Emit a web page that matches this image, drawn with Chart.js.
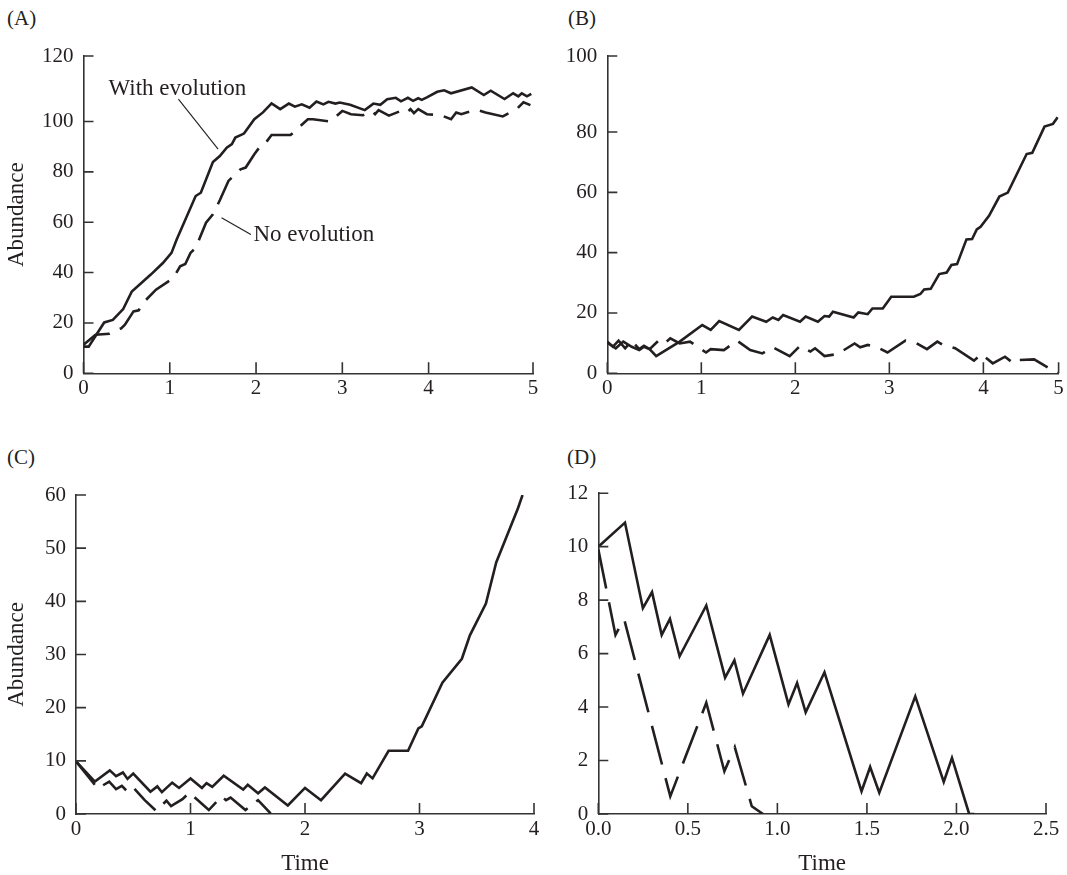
<!DOCTYPE html>
<html>
<head>
<meta charset="utf-8">
<title>Abundance with and without evolution</title>
<script src="https://cdn.jsdelivr.net/npm/chart.js@4.4.0/dist/chart.umd.min.js"></script>
<style>
  html, body { margin: 0; padding: 0; background: #fff; }
  body { width: 1067px; height: 875px; position: relative; overflow: hidden;
         font-family: "Liberation Serif", "Times New Roman", serif; color: #231f20; }
  canvas { position: absolute; }
  .tag { position: absolute; font-size: 21px; line-height: 21px; }
</style>
</head>
<body>
<div class="tag" style="left:7px;top:8px">(A)</div>
<div class="tag" style="left:568px;top:8px">(B)</div>
<div class="tag" style="left:7px;top:447px">(C)</div>
<div class="tag" style="left:567px;top:447px">(D)</div>

<canvas id="chartA" width="560" height="420" style="left:0;top:0"></canvas>
<canvas id="chartB" width="507" height="420" style="left:560px;top:0"></canvas>
<canvas id="chartC" width="560" height="455" style="left:0;top:420px"></canvas>
<canvas id="chartD" width="507" height="455" style="left:560px;top:420px"></canvas>

<script>
// ---- data: [time, abundance] ----

// (A)
const aWithEvolution = [
  [0,10.6],[0.06,10.6],[0.24,20.2],[0.34,21.2],[0.46,25.5],[0.56,32.5],[0.78,39.2],
  [0.92,43.8],[1.02,47.8],[1.08,53.1],[1.30,70.4],[1.36,71.7],[1.50,83.9],[1.58,86.3],
  [1.66,89.6],[1.72,91.0],[1.76,93.6],[1.86,95.2],[1.98,100.9],[2.08,103.6],[2.18,107.2],
  [2.28,104.9],[2.38,107.1],[2.45,105.9],[2.53,106.8],[2.62,105.5],[2.70,107.9],[2.78,106.8],
  [2.84,107.8],[2.92,107.1],[2.97,107.5],[3.09,106.6],[3.26,104.5],[3.36,107.1],[3.44,106.6],
  [3.52,108.8],[3.62,109.4],[3.68,108.0],[3.76,109.4],[3.82,108.2],[3.88,109.2],[3.92,108.6],
  [3.98,109.6],[4.10,111.8],[4.18,112.4],[4.26,111.2],[4.50,113.5],[4.64,110.5],[4.72,112.2],
  [4.88,108.9],[4.98,111.2],[5.04,110.0],[5.08,111.2],[5.14,110.0],[5.19,111.0]
];
const aNoEvolution = [
  [0,11.3],[0.14,15.3],[0.30,15.7],[0.44,17.9],[0.48,19.3],[0.58,24.6],[0.64,25.0],
  [0.68,27.6],[0.84,33.2],[1.04,37.8],[1.12,42.5],[1.18,43.4],[1.24,47.8],[1.30,49.8],
  [1.42,59.8],[1.50,63.1],[1.58,68.7],[1.68,76.4],[1.76,79.0],[1.82,81.0],[1.88,81.7],
  [1.98,87.0],[2.08,91.6],[2.12,91.9],[2.18,94.6],[2.40,94.6],[2.60,100.9],[2.66,100.9],
  [2.86,100.0],[3.00,104.2],[3.10,102.9],[3.24,102.5],[3.34,104.2],[3.38,102.9],[3.42,104.5],
  [3.54,102.3],[3.68,104.2],[3.74,103.3],[3.79,104.9],[3.83,103.3],[3.88,104.9],[3.98,102.9],
  [4.14,102.5],[4.26,100.9],[4.32,103.6],[4.38,102.9],[4.44,103.6],[4.56,104.6],[4.66,103.6],
  [4.86,102.0],[5.02,104.9],[5.10,107.6],[5.18,106.5]
];
// the printed axes in (A) and (B) run a little past the last regular step
const aTimeTicks = [0, 1, 2, 3, 4, 5.21];
const aTimeLabels = ['0', '1', '2', '3', '4', '5'];
const aAbundanceTicks = [0, 20, 40, 60, 80, 100, 126];
const aAbundanceLabels = ['0', '20', '40', '60', '80', '100', '120'];

// (B)
const bWithEvolution = [
  [0,10.2],[0.09,8.3],[0.17,10.5],[0.26,8.8],[0.34,7.7],[0.39,8.8],[0.45,8.0],[0.52,5.7],
  [0.77,10.5],[1.01,16.0],[1.10,14.4],[1.19,17.3],[1.40,14.4],[1.54,18.8],[1.69,17.1],
  [1.76,18.5],[1.82,17.7],[1.87,19.3],[2.05,17.1],[2.11,18.8],[2.24,17.1],[2.31,19.0],
  [2.36,18.8],[2.40,20.4],[2.62,18.5],[2.67,20.2],[2.77,19.6],[2.82,21.5],[2.93,21.5],
  [3.02,25.4],[3.26,25.4],[3.33,26.3],[3.37,27.8],[3.44,28.0],[3.53,32.9],[3.61,33.4],
  [3.66,35.9],[3.72,36.2],[3.82,44.4],[3.88,44.5],[3.93,47.7],[3.97,48.6],[4.06,52.2],
  [4.17,58.6],[4.26,59.9],[4.46,72.7],[4.52,73.1],[4.65,81.8],[4.74,82.7],[4.79,84.9]
];
const bNoEvolution = [
  [0,10.5],[0.06,8.8],[0.12,10.8],[0.19,8.3],[0.26,10.8],[0.34,8.0],[0.39,9.1],[0.45,8.0],
  [0.57,11.6],[0.63,10.5],[0.67,11.6],[0.77,9.9],[0.88,10.5],[1.05,6.9],[1.10,8.0],[1.24,7.7],
  [1.38,10.8],[1.52,7.7],[1.65,6.6],[1.76,8.6],[1.94,5.7],[2.05,9.1],[2.16,7.2],[2.21,8.3],
  [2.31,5.7],[2.45,6.4],[2.63,9.9],[2.69,8.6],[2.77,9.4],[2.86,8.8],[2.98,6.9],[3.17,10.8],
  [3.29,9.9],[3.40,8.0],[3.51,10.5],[3.57,9.4],[3.70,8.3],[3.90,4.2],[3.98,6.4],[4.10,3.3],
  [4.23,5.5],[4.32,3.3],[4.37,4.4],[4.54,4.6],[4.79,0]
];
const bTimeTicks = [0, 1, 2, 3, 4, 4.80];
const bTimeLabels = ['0', '1', '2', '3', '4', '5'];
const bAbundanceTicks = [0, 20, 40, 60, 80, 105.2];
const bAbundanceLabels = ['0', '20', '40', '60', '80', '100'];

// (C)
const cWithEvolution = [
  [0,9.9],[0.165,6.1],[0.295,8.2],[0.35,7.1],[0.41,7.8],[0.45,6.6],[0.50,7.6],[0.65,4.2],
  [0.71,5.2],[0.75,4.1],[0.84,5.9],[0.90,4.9],[1.00,6.7],[1.10,4.9],[1.14,5.8],[1.19,5.1],
  [1.29,7.2],[1.46,4.6],[1.50,5.5],[1.59,3.9],[1.65,5.0],[1.85,1.6],[2.00,4.9],[2.14,2.6],
  [2.35,7.6],[2.49,5.8],[2.54,7.6],[2.59,6.7],[2.73,11.9],[2.90,11.9],[2.99,16.1],[3.02,16.5],
  [3.20,24.7],[3.37,29.2],[3.44,33.6],[3.58,39.6],[3.67,47.3],[3.86,57.5],[3.90,60.0]
];
const cNoEvolution = [
  [0,9.9],[0.19,4.8],[0.29,6.1],[0.35,4.7],[0.40,5.3],[0.45,4.2],[0.50,5.0],[0.60,2.6],
  [0.70,0.6],[0.79,2.5],[0.83,1.5],[0.93,2.8],[0.99,4.0],[1.16,0.75],[1.27,3.3],[1.31,2.6],
  [1.35,3.1],[1.48,0.75],[1.59,2.6],[1.70,0.1]
];
const cTimeTicks = [0, 1, 2, 3, 4];
const cTimeLabels = ['0', '1', '2', '3', '4'];
const cAbundanceTicks = [0, 10, 20, 30, 40, 50, 60];
const cAbundanceLabels = ['0', '10', '20', '30', '40', '50', '60'];

// (D)
const dWithEvolution = [
  [0,10.0],[0.149,10.9],[0.249,7.7],[0.30,8.3],[0.354,6.7],[0.40,7.3],[0.454,5.9],[0.603,7.8],
  [0.708,5.1],[0.76,5.75],[0.808,4.5],[0.957,6.7],[1.062,4.1],[1.11,4.9],[1.158,3.8],
  [1.263,5.3],[1.47,0.85],[1.518,1.76],[1.569,0.8],[1.77,4.4],[1.929,1.2],[1.975,2.1],
  [2.071,0],[2.10,0]
];
const dNoEvolution = [
  [0,9.9],[0.096,6.7],[0.144,7.3],[0.402,0.66],[0.603,4.16],[0.704,1.6],[0.762,2.5],
  [0.857,0.29],[0.92,0]
];
const dTimeTicks = [0, 0.5, 1.0, 1.5, 2.0, 2.5];
const dTimeLabels = ['0.0', '0.5', '1.0', '1.5', '2.0', '2.5'];
const dAbundanceTicks = [0, 2, 4, 6, 8, 10, 12];
const dAbundanceLabels = ['0', '2', '4', '6', '8', '10', '12'];

// ---- drawing ----
const ink = '#231f20';
const axisInk = '#333333';
const serif = '"Liberation Serif", "Times New Roman", serif';

// tick marks point into the plot in the original
const inwardTicks = {
  id: 'inwardTicks',
  afterDatasetsDraw(chart) {
    const {ctx, chartArea, scales: {x, y}} = chart;
    ctx.save();
    ctx.strokeStyle = axisInk;
    ctx.lineWidth = 1.6;
    ctx.beginPath();
    y.ticks.forEach(t => {
      const py = y.getPixelForValue(t.value);
      ctx.moveTo(chartArea.left, py);
      ctx.lineTo(chartArea.left + 10, py);
    });
    x.ticks.forEach(t => {
      const px = x.getPixelForValue(t.value);
      ctx.moveTo(px, chartArea.bottom);
      ctx.lineTo(px, chartArea.bottom - 11);
    });
    ctx.stroke();
    ctx.restore();
  }
};

// "With evolution" / "No evolution" labels with leader lines
const callouts = {
  id: 'callouts',
  afterDatasetsDraw(chart, args, opts) {
    const items = opts.items || [];
    const {ctx, scales: {x, y}} = chart;
    ctx.save();
    items.forEach(it => {
      ctx.strokeStyle = ink;
      ctx.lineWidth = 1.1;
      ctx.beginPath();
      ctx.moveTo(x.getPixelForValue(it.line[0][0]), y.getPixelForValue(it.line[0][1]));
      ctx.lineTo(x.getPixelForValue(it.line[1][0]), y.getPixelForValue(it.line[1][1]));
      ctx.stroke();
      ctx.font = '23px ' + serif;
      ctx.fillStyle = ink;
      ctx.textAlign = 'left';
      ctx.textBaseline = 'middle';
      ctx.fillText(it.text, x.getPixelForValue(it.at[0]), y.getPixelForValue(it.at[1]));
    });
    ctx.restore();
  }
};

function toPoints(rows) {
  return rows.map(r => ({x: r[0], y: r[1]}));
}

function build_panel(id, cfg) {
  const ctx = document.getElementById(id);
  return new Chart(ctx, {
    type: 'line',
    data: {
      datasets: [
        {
          label: 'With evolution',
          data: toPoints(cfg.solid),
          borderColor: ink,
          borderWidth: 2.6,
          pointRadius: 0,
          tension: 0,
          fill: false
        },
        {
          label: 'No evolution',
          data: toPoints(cfg.dashed),
          borderColor: ink,
          borderWidth: 2.6,
          borderDash: cfg.dash,
          pointRadius: 0,
          tension: 0,
          fill: false
        }
      ]
    },
    options: {
      responsive: false,
      animation: false,
      events: [],
      layout: { padding: { top: cfg.padTop, right: cfg.padRight, left: 0, bottom: 0 } },
      plugins: {
        legend: { display: false },
        tooltip: { enabled: false },
        callouts: { items: cfg.callouts || [] }
      },
      scales: {
        x: {
          type: 'linear',
          min: 0,
          max: cfg.xTicks[cfg.xTicks.length - 1],
          grid: { display: false, drawTicks: false },
          border: { display: true, color: axisInk, width: 1.6 },
          afterBuildTicks: s => { s.ticks = cfg.xTicks.map(v => ({value: v})); },
          afterFit: s => { s.height = cfg.xHeight; },
          ticks: {
            autoSkip: false, maxRotation: 0, padding: 3, color: ink,
            font: { family: serif, size: 21 },
            callback: (v, i) => cfg.xLabels[i]
          },
          title: {
            display: !!cfg.xTitle,
            text: cfg.xTitle || '',
            color: ink,
            padding: { top: 0, bottom: 0 },
            font: { family: serif, size: 23, lineHeight: 1 }
          }
        },
        y: {
          type: 'linear',
          min: 0,
          max: cfg.yTicks[cfg.yTicks.length - 1],
          grid: { display: false, drawTicks: false },
          border: { display: true, color: axisInk, width: 1.6 },
          afterBuildTicks: s => { s.ticks = cfg.yTicks.map(v => ({value: v})); },
          afterFit: s => { s.width = cfg.yWidth; },
          ticks: {
            autoSkip: false, padding: 10, color: ink,
            font: { family: serif, size: 21 },
            callback: (v, i) => cfg.yLabels[i]
          },
          title: {
            display: !!cfg.yTitle,
            text: cfg.yTitle || '',
            color: ink,
            padding: { top: 5, bottom: 0 },
            font: { family: serif, size: 23, lineHeight: 1 }
          }
        }
      }
    },
    plugins: [inwardTicks, callouts]
  });
}

build_panel('chartA', {
  solid: aWithEvolution, dashed: aNoEvolution, dash: [30, 11],
  xTicks: aTimeTicks, xLabels: aTimeLabels, yTicks: aAbundanceTicks, yLabels: aAbundanceLabels,
  yTitle: 'Abundance',
  padTop: 56, padRight: 27, yWidth: 83.5, xHeight: 46.7,
  callouts: [
    { text: 'With evolution', at: [0.29, 113], line: [[1.10, 108.9], [1.56, 89]] },
    { text: 'No evolution', at: [1.97, 55], line: [[1.60, 61.8], [1.94, 55.1]] }
  ]
});

build_panel('chartB', {
  solid: bWithEvolution, dashed: bNoEvolution, dash: [30, 11],
  xTicks: bTimeTicks, xLabels: bTimeLabels, yTicks: bAbundanceTicks, yLabels: bAbundanceLabels,
  padTop: 56, padRight: 8.4, yWidth: 47.3, xHeight: 46.7
});

build_panel('chartC', {
  solid: cWithEvolution, dashed: cNoEvolution, dash: [30, 11],
  xTicks: cTimeTicks, xLabels: cTimeLabels, yTicks: cAbundanceTicks, yLabels: cAbundanceLabels,
  yTitle: 'Abundance', xTitle: 'Time',
  padTop: 75, padRight: 26, yWidth: 76, xHeight: 61
});

build_panel('chartD', {
  solid: dWithEvolution, dashed: dNoEvolution, dash: [40, 14],
  xTicks: dTimeTicks, xLabels: dTimeLabels, yTicks: dAbundanceTicks, yLabels: dAbundanceLabels,
  xTitle: 'Time',
  padTop: 73.2, padRight: 21, yWidth: 38.3, xHeight: 61
});
</script>
</body>
</html>
